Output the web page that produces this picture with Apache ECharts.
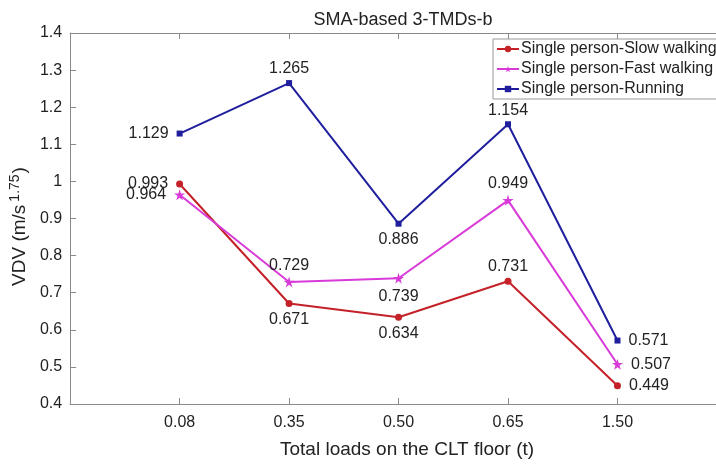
<!DOCTYPE html>
<html>
<head>
<meta charset="utf-8">
<script src="https://cdn.jsdelivr.net/npm/echarts@6/dist/echarts.min.js"></script>
<style>
    html, body { margin: 0; padding: 0; background: #fff; }
    #chart { width: 716px; height: 464px; }
</style>
</head>
<body>
<div id="chart"></div>
<script>
// x categories (total loads, t)
const loads = [ '0.08', '0.35', '0.50', '0.65', '1.50' ];
const slowWalking = [ 0.993, 0.671, 0.634, 0.731, 0.449 ];
const fastWalking = [ 0.964, 0.729, 0.739, 0.949, 0.507 ];
const running = [ 1.129, 1.265, 0.886, 1.154, 0.571 ];
// where each value label sits
const slowPos = [ 'left', 'bottom', 'bottom', 'top', 'right' ];
const fastPos = [ 'left', 'top', 'bottom', 'top', 'right' ];
const runPos = [ 'left', 'top', 'bottom', 'top', 'right' ];

const font = 'Liberation Sans, Arial, sans-serif';
const axisColor = '#8a8a8a';
const txt = '#222';
const labelGap = { top: 3, bottom: 5, left: 8, right: 8 };

// categories sit at positions 1..5; the plot box runs past the right edge of the picture
const mkSeries = ( name, vals, pos, color, symbol, size ) => ( {
    name,
    type: 'line',
    symbol,
    symbolSize: size,
    itemStyle: { color },
    lineStyle: { color, width: 2 },
    data: vals.map( ( v, i ) => ( {
        value: [ i + 1, v ],
        label: { position: pos[ i ], distance: labelGap[ pos[ i ] ] }
    } ) ),
    label: {
        show: true,
        color: txt,
        fontSize: 16,
        fontFamily: font,
        formatter: p => p.value[ 1 ].toFixed( 3 )
    }
} )

const chart = echarts.init( document.getElementById( 'chart' ) );
chart.setOption( {
    animation: false,
    textStyle: { fontFamily: font },
    title: {
        text: 'SMA-based 3-TMDs-b',
        left: 398,
        textAlign: 'center',
        top: 6,
        textStyle: { fontSize: 18, fontWeight: 'normal', color: txt, fontFamily: font }
    },
    grid: { left: 65, top: 33, right: 0, bottom: 52, containLabel: false },
    legend: {
        orient: 'vertical',
        left: 493,
        top: 39,
        itemGap: 2,
        itemWidth: 22,
        itemHeight: 8,
        padding: [ 1, 30, 1, 3 ],
        borderColor: '#999',
        borderWidth: 1,
        borderRadius: 0,
        backgroundColor: '#fff',
        textStyle: { fontSize: 16, lineHeight: 18, color: txt, fontFamily: font, padding: [ 0, 0, 0, -3 ] },
        data: [ 'Single person-Slow walking', 'Single person-Fast walking', 'Single person-Running' ]
    },
    xAxis: [ {
        type: 'value',
        min: 0,
        max: 5.9,
        interval: 1,
        name: 'Total loads on the CLT floor (t)',
        nameLocation: 'middle',
        nameGap: 36,
        nameTextStyle: { fontSize: 19, color: txt, fontFamily: font, padding: [ 0, 0, 0, 28 ] },
        splitLine: { show: false },
        axisLine: { lineStyle: { color: axisColor } },
        axisTick: { inside: true, length: 6, lineStyle: { color: axisColor } },
        axisLabel: {
            fontSize: 16, color: txt, margin: 11, showMaxLabel: false,
            formatter: v => loads[ v - 1 ] || ''
        }
    }, {
        type: 'value',
        position: 'top',
        min: 0,
        max: 5.9,
        interval: 1,
        splitLine: { show: false },
        axisLine: { lineStyle: { color: axisColor } },
        axisTick: { inside: true, length: 6, lineStyle: { color: axisColor } },
        axisLabel: { show: false }
    } ],
    yAxis: {
        type: 'value',
        min: 0.4,
        max: 1.4,
        interval: 0.1,
        name: '{a|VDV (m/s}{s|1.75}{a|)}',
        nameLocation: 'middle',
        nameGap: 38,
        nameTextStyle: {
            padding: [ 0, 16, 0, 0 ],
            rich: {
                a: { fontSize: 19, color: txt, fontFamily: font },
                s: { fontSize: 14, color: txt, fontFamily: font, verticalAlign: 'top', padding: [ 0, 1, 9, 3 ] }
            }
        },
        splitLine: { show: false },
        axisLine: { show: true, lineStyle: { color: axisColor } },
        axisTick: { show: true, inside: true, length: 6, lineStyle: { color: axisColor } },
        axisLabel: {
            fontSize: 16, color: txt, margin: 8,
            formatter: v => Math.abs( v - 1 ) < 1e-9 ? '1' : v.toFixed( 1 )
        }
    },
    series: [
        mkSeries( 'Single person-Slow walking', slowWalking, slowPos, '#c42128', 'circle', 7 ),
        mkSeries( 'Single person-Fast walking', fastWalking, fastPos, '#d83bd8', 'path://M50,0 L61,35 L98,35 L68,57 L79,92 L50,70 L21,92 L32,57 L2,35 L39,35 Z', 11 ),
        mkSeries( 'Single person-Running', running, runPos, '#1f1f9e', 'rect', 6 )
    ]
} );
</script>
</body>
</html>
